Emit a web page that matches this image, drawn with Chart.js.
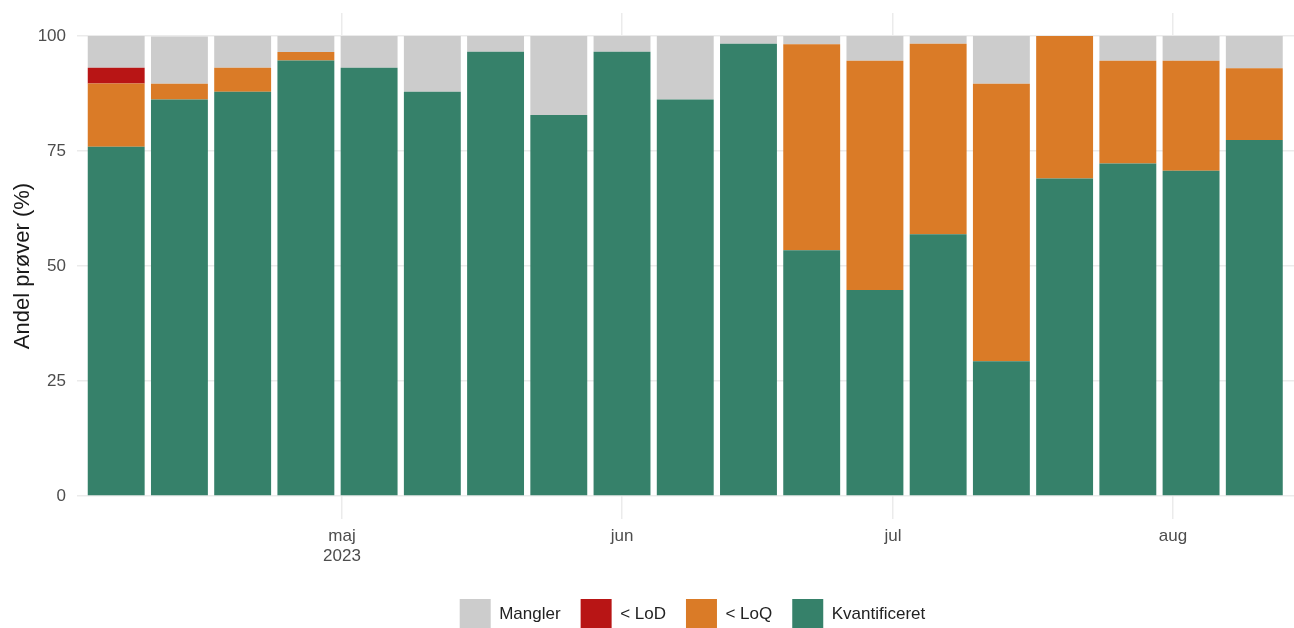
<!DOCTYPE html>
<html lang="da">

<head>
    <meta charset="UTF-8">
    <title>Andel prøver</title>
    <script src="https://cdn.jsdelivr.net/npm/chart.js"></script>
    <style>
        body {
            margin: 0;
            background: white;
            overflow: hidden;
        }

        .wrap {
            width: 1385px;
            height: 640px;
        }
    </style>
</head>

<body>
    <div class="wrap">
        <canvas id="chart" width="1385" height="640"></canvas>
    </div>

    <script>
        // week midpoints (one bar per week)
        const weeks = ['2023-04-06', '2023-04-13', '2023-04-20', '2023-04-27', '2023-05-04', '2023-05-11',
            '2023-05-18', '2023-05-25', '2023-06-01', '2023-06-08', '2023-06-15', '2023-06-22', '2023-06-29',
            '2023-07-06', '2023-07-13', '2023-07-20', '2023-07-27', '2023-08-03', '2023-08-10'];

        // share of samples (%) per category
        const kvantificeret = [75.9, 86.2, 87.9, 94.7, 93.1, 87.9, 96.6, 82.8, 96.6, 86.2, 98.3, 53.4, 44.8, 56.9, 29.3, 69.0, 72.3, 70.7, 77.4];
        const underLoQ = [13.8, 3.4, 5.2, 1.8, 0, 0, 0, 0, 0, 0, 0, 44.8, 49.8, 41.4, 60.3, 31.0, 22.3, 23.9, 15.6];
        const underLoD = [3.4, 0, 0, 0, 0, 0, 0, 0, 0, 0, 0, 0, 0, 0, 0, 0, 0, 0, 0];
        const mangler = [6.9, 10.3, 6.9, 3.5, 6.9, 12.1, 3.4, 17.2, 3.4, 13.8, 1.7, 1.8, 5.4, 1.7, 10.4, 0, 5.4, 5.4, 7.0];

        const monthTicks = ['2023-05-01', '2023-06-01', '2023-07-01', '2023-08-01'];
        const monthLabels = [['maj', '2023'], 'jun', 'jul', 'aug'];
        const yTicks = [0, 25, 50, 75, 100];

        // days since 1 jan 2023
        function day(s) {
            const [y, m, d] = s.split('-').map(Number);
            return (Date.UTC(y, m - 1, d) - Date.UTC(2023, 0, 1)) / 864e5;
        }

        function series(values) {
            return weeks.map((w, i) => ({ x: day(w), y: values[i] }));
        }

        Chart.defaults.font.family = '"Liberation Sans", Arial, sans-serif';
        Chart.defaults.animation = false;

        const ctx = document.getElementById('chart').getContext('2d');
        new Chart(ctx, {
            type: 'bar',
            data: {
                datasets: [
                    { label: 'Kvantificeret', data: series(kvantificeret), backgroundColor: '#36816A' },
                    { label: '< LoQ', data: series(underLoQ), backgroundColor: '#DA7B27' },
                    { label: '< LoD', data: series(underLoD), backgroundColor: '#B81515' },
                    { label: 'Mangler', data: series(mangler), backgroundColor: '#CCCCCC' }
                ]
            },
            options: {
                responsive: false,
                layout: { padding: { top: 13, right: 0, bottom: 0, left: 0 } },
                datasets: {
                    bar: { barPercentage: 0.9, categoryPercentage: 1, borderWidth: 0 }
                },
                scales: {
                    x: {
                        type: 'linear',
                        stacked: true,
                        offset: false,
                        // the figure is wider than the window, the right part is cropped
                        min: day('2023-04-01') + 0.66,
                        max: day('2023-08-24') + 0.47,
                        afterBuildTicks: s => { s.ticks = monthTicks.map(d => ({ value: day(d) })); },
                        afterFit: s => { s.height = 60; s.paddingLeft = 0; s.paddingRight = 0; },
                        ticks: {
                            callback: (v, i) => monthLabels[i],
                            color: '#4D4D4D',
                            font: { size: 17 },
                            padding: 7,
                            maxRotation: 0
                        },
                        grid: { color: '#EBEBEB', lineWidth: 1.5, drawTicks: false, offset: false },
                        border: { display: false }
                    },
                    y: {
                        stacked: true,
                        min: -5,
                        max: 105,
                        afterBuildTicks: s => { s.ticks = yTicks.map(v => ({ value: v })); },
                        afterFit: s => { s.width = 77; s.paddingTop = 0; s.paddingBottom = 0; },
                        ticks: { color: '#4D4D4D', font: { size: 17 }, padding: 11 },
                        grid: { color: '#EBEBEB', lineWidth: 1.5, drawTicks: false },
                        border: { display: false },
                        title: {
                            display: true,
                            text: 'Andel prøver (%)',
                            color: '#1A1A1A',
                            font: { size: 22 },
                            padding: { top: 10, bottom: 0 }
                        }
                    }
                },
                plugins: {
                    legend: {
                        position: 'bottom',
                        reverse: true,
                        labels: {
                            boxWidth: 31,
                            boxHeight: 31,
                            padding: 20,
                            color: '#222',
                            font: { size: 17 }
                        }
                    },
                    tooltip: { enabled: false }
                }
            }
        });
    </script>
</body>

</html>
